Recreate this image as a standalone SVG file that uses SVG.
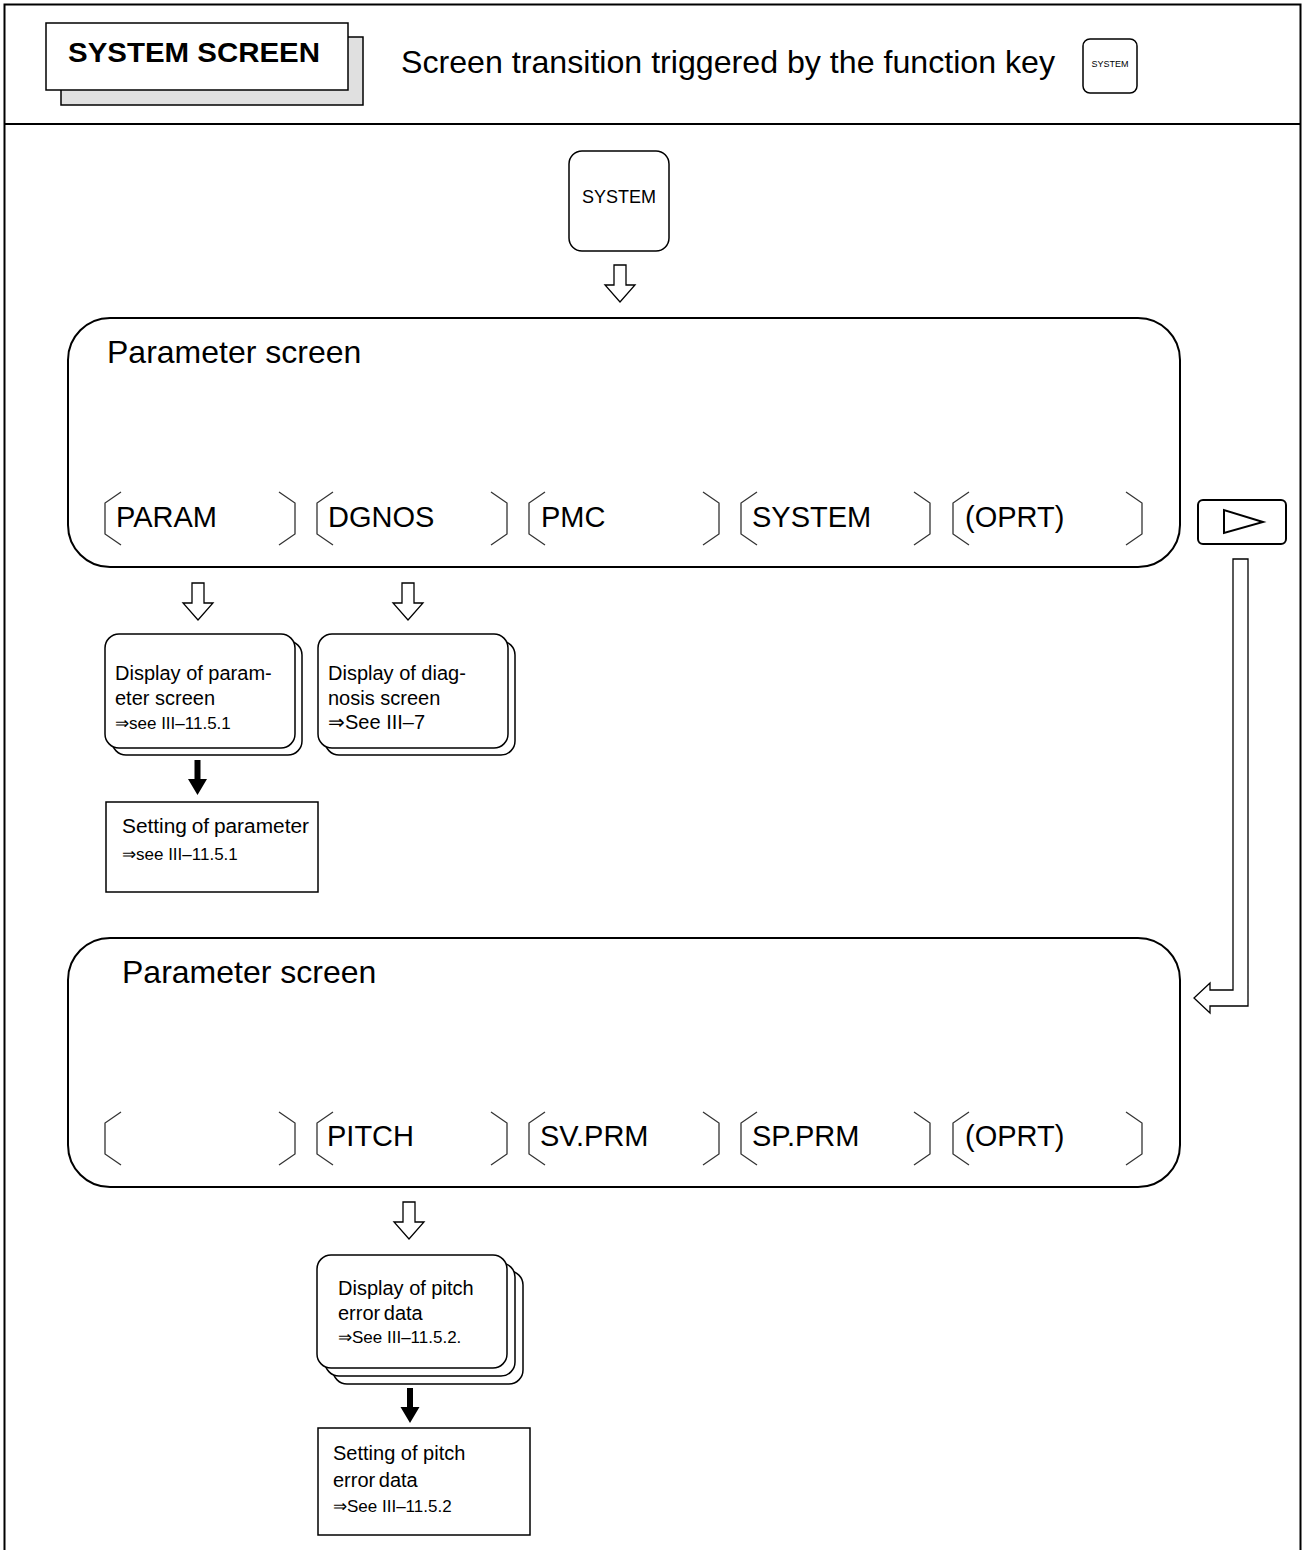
<svg xmlns="http://www.w3.org/2000/svg" width="1305" height="1550" viewBox="0 0 1305 1550">
<style>
text{font-family:"Liberation Sans",Arial,sans-serif;fill:#000}
.frame{fill:none;stroke:#000;stroke-width:2}
.box{fill:#fff;stroke:#000;stroke-width:2}
.thin{fill:#fff;stroke:#000;stroke-width:1.5}
.br{fill:none;stroke:#333;stroke-width:1.3}
.hol{fill:#fff;stroke:#000;stroke-width:1.3;stroke-linejoin:miter}
.blk{fill:#000;stroke:none}
.big{font-size:32px}
.sk{font-size:29px}
.bd{font-size:20px}
.rf{font-size:17px}
</style>
<defs>
<path id="harrow" d="M-6,0 H6 V20 H15 L0,37 L-15,20 H-6 Z" class="hol"/>
<path id="barrow" d="M-3,0 H3 V19 H9.5 L0,35 L-9.5,19 H-3 Z" class="blk"/>
<path id="lbr" d="M16,0 L0,11 V42 L16,53" class="br"/>
<path id="rbr" d="M-16,0 L0,11 V42 L-16,53" class="br"/>
</defs>

<g id="frame">
<path class="frame" d="M4.5,1552 V4.5 H1300.5 V1552"/>
<line class="frame" x1="4.5" y1="124" x2="1300.5" y2="124"/>
</g>

<g id="title">
<rect x="61" y="37" width="302" height="68" fill="#e0e0e0" stroke="#000" stroke-width="1.5"/>
<rect x="46" y="23" width="302" height="67" fill="#fff" stroke="#000" stroke-width="1.5"/>
<text x="68" y="62" font-size="28" font-weight="bold" textLength="252" lengthAdjust="spacingAndGlyphs">SYSTEM SCREEN</text>
<text x="401" y="73" font-size="32" textLength="654" lengthAdjust="spacingAndGlyphs">Screen transition triggered by the function key</text>
</g>

<g id="key-small">
<rect x="1083" y="39" width="54" height="54" rx="7" class="thin"/>
<text x="1110" y="67" font-size="9" text-anchor="middle">SYSTEM</text>
</g>

<g id="key-system">
<rect x="569" y="151" width="100" height="100" rx="13" class="thin"/>
<text x="619" y="203" font-size="18" text-anchor="middle">SYSTEM</text>
</g>

<g id="screen1">
<rect x="68" y="318" width="1112" height="249" rx="42" class="box"/>
<text x="107" y="363" class="big">Parameter screen</text>
<use href="#lbr" x="105" y="492"/><use href="#rbr" x="295" y="492"/>
<use href="#lbr" x="317" y="492"/><use href="#rbr" x="507" y="492"/>
<use href="#lbr" x="529" y="492"/><use href="#rbr" x="719" y="492"/>
<use href="#lbr" x="741" y="492"/><use href="#rbr" x="930" y="492"/>
<use href="#lbr" x="953" y="492"/><use href="#rbr" x="1142" y="492"/>
<text x="116" y="527" class="sk">PARAM</text>
<text x="328" y="527" class="sk">DGNOS</text>
<text x="541" y="527" class="sk">PMC</text>
<text x="752" y="527" class="sk">SYSTEM</text>
<text x="965" y="527" class="sk">(OPRT)</text>
</g>

<g id="key-next">
<rect x="1198" y="500" width="88" height="44" rx="5" class="box"/>
<path d="M1224,510 L1224,533 L1263,522 Z" fill="none" stroke="#000" stroke-width="2" stroke-linejoin="miter"/>
</g>

<g id="disp-param">
<rect x="112" y="641" width="190" height="114" rx="14" class="thin"/>
<rect x="105" y="634" width="190" height="114" rx="14" class="thin"/>
<text x="115" y="680" class="bd">Display of param-</text>
<text x="115" y="705" class="bd">eter screen</text>
<text x="115" y="729" class="rf">⇒see III–11.5.1</text>
</g>

<g id="disp-diag">
<rect x="325" y="641" width="190" height="114" rx="14" class="thin"/>
<rect x="318" y="634" width="190" height="114" rx="14" class="thin"/>
<text x="328" y="680" class="bd">Display of diag-</text>
<text x="328" y="705" class="bd">nosis screen</text>
<text x="328" y="729" class="bd">⇒See III–7</text>
</g>

<g id="set-param">
<rect x="106" y="802" width="212" height="90" class="thin"/>
<text x="122" y="833" class="bd" word-spacing="-1" textLength="187" lengthAdjust="spacingAndGlyphs">Setting of parameter</text>
<text x="122" y="860" class="rf">⇒see III–11.5.1</text>
</g>

<g id="screen2">
<rect x="68" y="938" width="1112" height="249" rx="42" class="box"/>
<text x="122" y="983" class="big">Parameter screen</text>
<use href="#lbr" x="105" y="1112"/><use href="#rbr" x="295" y="1112"/>
<use href="#lbr" x="317" y="1112"/><use href="#rbr" x="507" y="1112"/>
<use href="#lbr" x="529" y="1112"/><use href="#rbr" x="719" y="1112"/>
<use href="#lbr" x="741" y="1112"/><use href="#rbr" x="930" y="1112"/>
<use href="#lbr" x="953" y="1112"/><use href="#rbr" x="1142" y="1112"/>
<text x="327" y="1146" class="sk">PITCH</text>
<text x="540" y="1146" class="sk">SV.PRM</text>
<text x="752" y="1146" class="sk">SP.PRM</text>
<text x="965" y="1146" class="sk">(OPRT)</text>
</g>

<g id="disp-pitch">
<rect x="333" y="1271" width="190" height="113" rx="14" class="thin"/>
<rect x="325" y="1263" width="190" height="113" rx="14" class="thin"/>
<rect x="317" y="1255" width="190" height="113" rx="14" class="thin"/>
<text x="338" y="1295" class="bd">Display of pitch</text>
<text x="338" y="1320" class="bd" word-spacing="-2">error data</text>
<text x="338" y="1343" class="rf">⇒See III–11.5.2.</text>
</g>

<g id="set-pitch">
<rect x="318" y="1428" width="212" height="107" class="thin"/>
<text x="333" y="1460" class="bd">Setting of pitch</text>
<text x="333" y="1487" class="bd" word-spacing="-2">error data</text>
<text x="333" y="1512" class="rf">⇒See III–11.5.2</text>
</g>

<g id="connectors">
<use href="#harrow" x="620" y="265"/>
<use href="#harrow" x="198" y="583"/>
<use href="#harrow" x="408" y="583"/>
<use href="#barrow" x="197.5" y="760"/>
<use href="#harrow" x="409" y="1202"/>
<use href="#barrow" x="410" y="1388"/>
<path class="hol" d="M1233,559 H1248 V1006 H1210 V1013 L1194,998 L1210,983 V990 H1233 Z"/>
</g>
</svg>
